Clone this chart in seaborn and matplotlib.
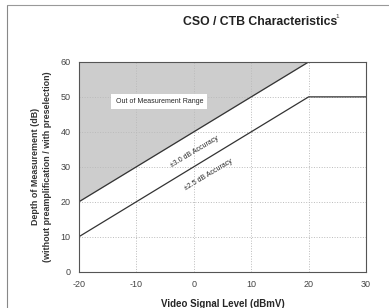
import matplotlib
matplotlib.use("Agg")
import matplotlib.pyplot as plt
import seaborn as sns
import pandas as pd

# data
signal_level = [-20, 20, 30]
upper_limit = [20, 60, 60]   # +/-3.0 dB accuracy boundary
lower_limit = [10, 50, 50]   # +/-2.5 dB accuracy boundary
x_ticks = [-20, -10, 0, 10, 20, 30]
y_ticks = [0, 10, 20, 30, 40, 50, 60]

sns.set_style("white")
plt.rcParams['font.family'] = ['Liberation Sans', 'DejaVu Sans']
plt.rcParams['axes.unicode_minus'] = False

df = pd.DataFrame({"x": signal_level + signal_level,
                   "y": upper_limit + lower_limit,
                   "line": ["upper"] * 3 + ["lower"] * 3})

fig = plt.figure(figsize=(3.89, 3.08), dpi=100)
ax = fig.add_axes([0.203, 0.118, 0.738, 0.681])

# gray region above the upper boundary
ax.fill_between(signal_level, upper_limit, 60, color="#cdcdcd", lw=0, zorder=0)

sns.lineplot(data=df, x="x", y="y", units="line", estimator=None,
             color="#333333", lw=0.9, ax=ax, legend=False)

ax.set_xlim(-20, 30)
ax.set_ylim(0, 60)
ax.set_xticks(x_ticks)
ax.set_yticks(y_ticks)
ax.tick_params(labelsize=6.5, colors="#444444", length=0, pad=6)
ax.grid(True, ls=":", color="#bbbbbb", lw=0.7)
ax.set_axisbelow(True)
for s in ax.spines.values():
    s.set_color("#555555")
    s.set_linewidth(0.8)

ax.set_xlabel("Video Signal Level (dBmV)", fontsize=7, fontweight="bold", labelpad=7)
ax.set_ylabel("Depth of Measurement (dB)\n(without preamplification / with preselection)",
              fontsize=6.4, fontweight="semibold", labelpad=6, linespacing=1.5,
              color="#333333")

ax.text(-6, 48.6, "Out of Measurement Range", fontsize=5, ha="center", va="center",
        bbox=dict(boxstyle="square,pad=0.6", fc="white", ec="none"))
ax.text(0.2, 34.3, "±3.0 dB Accuracy", fontsize=5, ha="center", va="center", rotation=31)
ax.text(2.6, 27.6, "±2.5 dB Accuracy", fontsize=5, ha="center", va="center", rotation=31)

fig.text(0.668, 0.93, "CSO / CTB Characteristics", fontsize=8.8, fontweight="bold",
         ha="center", va="center", color="#222222")
fig.text(0.868, 0.945, "1", fontsize=4.5, ha="center", va="center", color="#333333")

# page border of the scanned sheet
fig.add_artist(plt.Line2D([0.018, 0.018], [0.0, 0.985], color="#888888", lw=0.8))
fig.add_artist(plt.Line2D([0.018, 1.0], [0.985, 0.985], color="#999999", lw=0.8))

fig.savefig("out.png", dpi=100)
